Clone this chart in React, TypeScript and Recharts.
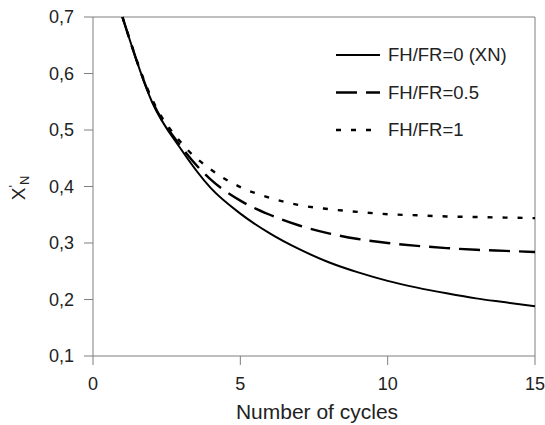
import { LineChart, Line, XAxis, YAxis, ReferenceLine } from 'recharts';

const cycles = [1, 2, 3, 4, 5, 6, 7, 8, 9, 10, 11, 12, 13, 14, 15];
const xnValues = [0.70, 0.55, 0.465, 0.397, 0.352, 0.317, 0.289, 0.266, 0.248, 0.233, 0.221, 0.211, 0.202, 0.195, 0.188];
const halfValues = [0.70, 0.552, 0.47, 0.412, 0.375, 0.35, 0.331, 0.317, 0.307, 0.300, 0.295, 0.291, 0.288, 0.286, 0.284];
const oneValues = [0.70, 0.555, 0.477, 0.43, 0.399, 0.38, 0.367, 0.36, 0.355, 0.351, 0.349, 0.347, 0.346, 0.345, 0.344];
const xTicks = [0, 5, 10, 15];
const yTicks = [0.1, 0.2, 0.3, 0.4, 0.5, 0.6, 0.7];

const series = [
  { key: "xn", name: "FH/FR=0 (XN)", dash: undefined, width: 2 },
  { key: "half", name: "FH/FR=0.5", dash: "21 9", width: 2.4 },
  { key: "one", name: "FH/FR=1", dash: "5 10", width: 2.4 },
];

const data = cycles.map((c, i) => ({
  cycle: c,
  xn: xnValues[i],
  half: halfValues[i],
  one: oneValues[i],
}));

const font = "'Liberation Sans', Arial, sans-serif";
const axisColor = "#7f7f7f";
const textColor = "#222";

// legend drawn on top of the chart so it doesn't eat plot space
const LegendBox = () => (
  <svg width={200} height={110} style={{ position: "absolute", left: 335, top: 40 }}>
    {series.map((s, i) => (
      <g key={s.key} transform={`translate(0, ${15 + i * 37.5})`}>
        <line x1={1} x2={45} y1={0} y2={0} stroke="#000" strokeWidth={s.width} strokeDasharray={s.dash} />
        <text x={53} y={0} dy="0.35em" fontSize={18.5} fontFamily={font} fill={textColor}>{s.name}</text>
      </g>
    ))}
  </svg>
);

const YLabel = () => (
  <text transform="translate(25, 188) rotate(-90)" textAnchor="middle" fontFamily={font} fill={textColor} fontSize={19}>
    X<tspan fontSize={13} dy={-7}>'</tspan><tspan fontSize={13} dy={11}>N</tspan>
  </text>
);

const XLabel = () => (
  <text x={317} y={419} textAnchor="middle" fontFamily={font} fill={textColor} fontSize={21}>
    Number of cycles
  </text>
);

export default function App() {
  return (
    <div style={{ position: "absolute", left: 0, top: 0, width: 545, height: 425, background: "#fff" }}>
      <LineChart width={545} height={425} data={data} margin={{ top: 17, right: 10, bottom: 39, left: 33 }}>
        <XAxis
          dataKey="cycle"
          type="number"
          domain={[0, 15]}
          ticks={xTicks}
          stroke={axisColor}
          tickSize={9}
          tickMargin={12}
          height={30}
          tick={{ fill: textColor, fontSize: 18, fontFamily: font }}
          label={<XLabel />}
        />
        <YAxis
          type="number"
          domain={[0.1, 0.7]}
          ticks={yTicks}
          stroke={axisColor}
          tickSize={9}
          tickMargin={10}
          width={60}
          tickFormatter={(v: number) => v.toFixed(1).replace(".", ",")}
          tick={{ fill: textColor, fontSize: 18, fontFamily: font }}
          label={<YLabel />}
        />
        <ReferenceLine y={0.7} stroke={axisColor} strokeWidth={1} />
        <ReferenceLine x={15} stroke={axisColor} strokeWidth={1} />
        {series.map((s) => (
          <Line
            key={s.key}
            dataKey={s.key}
            name={s.name}
            type="monotone"
            stroke="#000"
            strokeWidth={s.width}
            strokeDasharray={s.dash}
            dot={false}
            activeDot={false}
            isAnimationActive={false}
          />
        ))}
      </LineChart>
      <LegendBox />
    </div>
  );
}
